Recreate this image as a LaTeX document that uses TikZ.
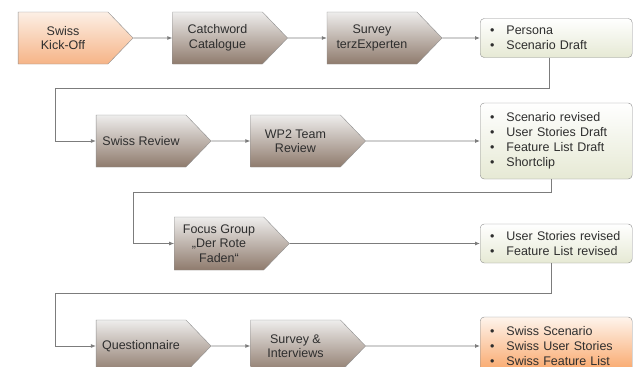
\documentclass[tikz,border=0pt]{standalone}
\usepackage{fontspec}
\setmainfont{Liberation Sans}
\usetikzlibrary{arrows.meta, positioning, shapes.symbols}
\definecolor{linegray}{HTML}{7C7C7C}
\definecolor{framegray}{HTML}{8E8E8E}
\definecolor{taupetop}{HTML}{EEEDEC}
\definecolor{taupebot}{HTML}{8F7B6D}
\definecolor{kicktop}{HTML}{FCEFE5}
\definecolor{kickbot}{HTML}{F6B487}
\definecolor{outbot}{HTML}{E6E9D4}
\definecolor{finaltop}{HTML}{FEF4EC}
\definecolor{finalbot}{HTML}{F9A262}
\newcommand{\bul}{\hspace*{3pt}\textbullet\hspace{0.95em}}
\tikzset{
  phasebox/.style = {signal, signal to=east, signal pointer angle=92, draw=framegray,
                     top color=taupetop, bottom color=taupebot, align=center,
                     minimum width=115pt, minimum height=52pt, inner sep=2pt,
                     text=black!82, font=\fontsize{12.5}{14.5}\selectfont},
  kickbox/.style  = {phasebox, top color=kicktop, bottom color=kickbot},
  outbox/.style   = {draw=framegray, rounded corners=4pt, top color=white, bottom color=outbot,
                     text width=138pt, inner xsep=7pt, inner ysep=3pt, align=left,
                     text=black!82, font=\fontsize{12.5}{15}\selectfont},
  finalbox/.style = {outbox, top color=finaltop, bottom color=finalbot},
  flow/.style     = {-{Latex[length=5pt, width=4pt]}, draw=linegray, line width=0.8pt},
}

\begin{document}
\begin{tikzpicture}[x=1pt, y=-1pt, node distance=39pt]
\useasboundingbox (0,0) rectangle (633,367);
\clip (0,0) rectangle (633,367);

% row 1
\node[kickbox] (kick) at (63,38) {Swiss\\Kick-Off};
\node[phasebox, right=of kick] (catch) {Catchword\\Catalogue};
\node[phasebox, right=of catch] (terz) {Survey\\terzExperten};
\node[outbox, minimum height=39pt, anchor=west] (persona) at (480,38)
  {\bul Persona\\\bul Scenario Draft};

% row 2
\node[phasebox] (review) at (141,141) {Swiss Review};
\node[phasebox, right=of review] (wp2) {WP2 Team\\Review};
\node[outbox, minimum height=76pt, anchor=west] (draft) at (480,141)
  {\bul Scenario revised\\\bul User Stories Draft\\\bul Feature List Draft\\\bul Shortclip};

% row 3
\node[phasebox, minimum height=53pt] (focus) at (219,243.5) {Focus Group\\„Der Rote\\Faden“};
\node[outbox, minimum height=39pt, anchor=west] (revised) at (480,243.5)
  {\bul User Stories revised\\\bul Feature List revised};

% row 4
\node[phasebox] (quest) at (141,346) {Questionnaire};
\node[phasebox, right=of quest] (interv) {Survey \&\\Interviews};
\node[finalbox, minimum height=58pt, anchor=west] (swiss) at (480,346)
  {\bul Swiss Scenario\\\bul Swiss User Stories\\\bul Swiss Feature List};

\coordinate (bend1) at (55,88);
\coordinate (bend2) at (133,192);
\coordinate (bend3) at (55,293);

\foreach \x/\y in {kick/catch, catch/terz, terz/persona, review/wp2, wp2/draft,
                   focus/revised, quest/interv, interv/swiss}
  \draw[flow] (\x) -- (\y);

\draw[flow] ([xshift=-7pt]persona.south) |- (bend1) |- (review.west);
\draw[flow] ([xshift=-5pt]draft.south) |- (bend2) |- (focus.west);
\draw[flow] ([xshift=-5pt]revised.south) |- (bend3) |- (quest.west);

\end{tikzpicture}
\end{document}
